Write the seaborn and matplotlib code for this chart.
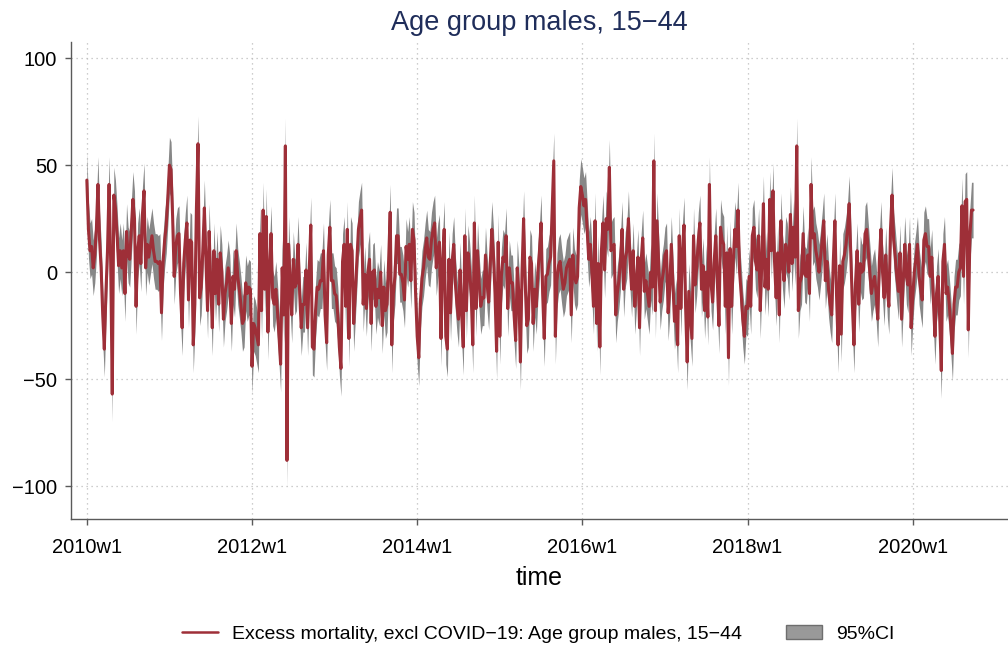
import numpy as np
import pandas as pd
import seaborn as sns
import matplotlib.pyplot as plt
from matplotlib.patches import Patch
from matplotlib.lines import Line2D

# weekly excess mortality (Stata weeks, 52 per year)
exc_2010 = [43, 20, 10, 12, 2, 8, 20, 41, 15, 2, -20, -36, -10, 10, 41, 5, -57, 36, 30, 18,
            3, 10, 2, 10, -10, 19, 8, 6, 20, 34, 25, -16, 10, 17, 4, 27, 38, 2, 13, 7,
            12, 17, 10, 5, 5, 4, 5, -19, 5, 15, 22, 35]
exc_2011 = [50, 48, 26, -2, 12, 17, 18, -10, -26, 4, 15, 23, -13, 15, 14, -34, -15, 30, 60, -12,
            -7, 10, 30, 5, -18, 19, -5, -26, 10, -10, 6, -15, 9, 0, -22, -10, -5, 2, -5, -24,
            -2, -8, 10, -2, -8, -15, -24, -22, -5, -10, -7, -8]
exc_2012 = [-44, -24, -26, -30, -34, 18, -18, 29, -8, 26, -28, 0, 18, -12, -15, -8, -18, -30, -43, 2,
            -20, 59, -88, 13, -5, -20, 6, -7, -5, 13, -10, -26, -15, -15, 1, -26, 0, 22, -35, -36,
            -18, -7, -8, -4, -4, 10, -20, -33, 8, 21, -4, -4]
exc_2013 = [-10, -11, -20, -35, -45, 5, 13, -16, 20, -31, 13, 10, -24, -10, 5, 20, 25, 29, -15, -1,
            -17, 0, 6, -24, 0, 1, -16, -8, -12, 0, -25, -7, -18, -15, 5, 28, -34, -10, -2, 17,
            17, -1, -1, -5, -13, 12, 6, 13, -4, 20, 15, -10]
exc_2014 = [-30, -40, -14, -3, 2, 10, 16, 7, 6, 15, 20, 23, 2, 10, 14, -31, 5, 20, -30, -36,
            6, -19, 5, 13, -5, -15, -22, 1, -20, -35, 17, -18, 9, 1, -10, -34, 23, -17, 10, -5,
            -16, -12, -12, 8, -5, -14, 4, 20, 8, -10, -37, 14]
exc_2015 = [-30, -2, 7, 5, 17, -17, 2, -5, -5, -20, -32, 2, -10, -42, 0, 25, -5, -25, -22, 7,
            4, -24, -8, -16, 0, 10, 23, -10, -31, -2, -1, 4, 7, 30, 52, -30, -4, 3, 5, -2,
            -8, -5, 2, 4, 6, -20, 8, -2, -5, -2, 30, 40]
exc_2016 = [36, 31, 34, 20, 6, 13, 0, -16, 24, -24, 4, -35, 10, 23, 1, 25, 20, 49, 10, 12,
            13, -20, -10, -4, 5, 20, -8, 6, 10, 25, 5, -8, 10, -16, -5, 7, -26, 5, 16, -9,
            -4, -10, -16, 0, -7, 52, -18, 24, 5, -14, -5, 0]
exc_2017 = [8, 10, -19, -8, 13, -5, -23, -16, -34, 17, -17, 10, 22, -16, -42, -9, -20, -31, 17, -6,
            2, 15, 23, -8, 3, -18, 0, -21, 41, -5, -14, 5, 17, -5, -25, 21, 15, 13, -16, 9,
            -40, 11, -16, 5, 20, 12, 29, 0, -10, -22, -30, -16]
exc_2018 = [-17, -2, -16, 17, 21, 5, 1, 17, -18, 5, 32, -7, 6, -8, 34, 10, 38, 5, -12, 9,
            -20, 24, 5, -4, 13, 10, 0, 27, 4, 21, 7, 59, -18, -5, -2, 18, -1, -2, 8, -10,
            41, 16, 18, 10, 6, 0, 7, 15, 24, -4, 5, -8]
exc_2019 = [-15, -20, 5, 24, -10, -34, 3, -29, 5, 8, 13, 20, 32, 9, -15, -34, -5, 10, -15, 4,
            0, 1, 18, 20, 10, 0, -10, -5, -2, -10, -22, 5, 20, 0, -12, 8, -8, -16, 20, 36,
            15, 7, -2, -9, 9, -22, -5, 13, -2, -6, 13, -26]
exc_2020 = [-12, 0, 6, 13, -2, -8, -13, 15, 18, 12, 12, -2, 7, -13, -30, -10, -2, -22, -46, 5,
            13, -10, -7, -15, -25, -38, -15, -7, -7, 0, 2, 31, -2, 33, 34, -27, 17, 29, 29]

ci_half = 13  # half-width of the 95% band

tick_weeks = [0, 104, 208, 312, 416, 520]
tick_labels = ["2010w1", "2012w1", "2014w1", "2016w1", "2018w1", "2020w1"]
y_ticks = [-100, -50, 0, 50, 100]

excess = (exc_2010 + exc_2011 + exc_2012 + exc_2013 + exc_2014 + exc_2015
          + exc_2016 + exc_2017 + exc_2018 + exc_2019 + exc_2020)
df = pd.DataFrame({"week": np.arange(len(excess)), "excess": excess})
df["lo"] = df["excess"] - ci_half
df["hi"] = df["excess"] + ci_half

red = "#9e2f38"
band = "#878787"
axis_col = "#5a5a5a"

sns.set_style("white")
plt.rcParams["font.family"] = ["Liberation Sans", "DejaVu Sans"]
plt.rcParams["text.color"] = "black"
plt.rcParams["axes.labelcolor"] = "black"

fig = plt.figure(figsize=(10.08, 6.48), dpi=100)
ax = fig.add_axes([0.0704, 0.199, 0.9296, 0.736])

ax.fill_between(df["week"], df["lo"], df["hi"], color=band, lw=0)
sns.lineplot(data=df, x="week", y="excess", color=red, lw=2.2, ax=ax, legend=False)

ax.set_xlim(-10, 580)
ax.set_ylim(-115.4, 107.5)
ax.set_xticks(tick_weeks)
ax.set_xticklabels(tick_labels)
ax.set_yticks(y_ticks)
ax.grid(True, linestyle=(0, (1, 3)), color="#bdbdbd", lw=0.9)
ax.set_axisbelow(True)

for s in ["top", "right"]:
    ax.spines[s].set_visible(False)
for s in ["left", "bottom"]:
    ax.spines[s].set_color(axis_col)
    ax.spines[s].set_linewidth(1.0)
ax.tick_params(bottom=True, left=True, direction="out", length=4, width=1,
               color=axis_col, labelcolor="black", labelsize=14.5)
ax.tick_params(axis="x", pad=10)
ax.tick_params(axis="y", pad=6)

ax.set_ylabel("")
ax.set_xlabel("time", fontsize=18, labelpad=6)
ax.set_title("Age group males, 15\u221244", fontsize=19.5, color="#1f2d5a", pad=9)

handles = [Line2D([0], [0], color=red, lw=1.8),
           Patch(facecolor="#999999", edgecolor="#6e6e6e", lw=1)]
labels = ["Excess mortality, excl COVID\u221219: Age group males, 15\u221244", "95%CI"]
fig.legend(handles, labels, loc="center", bbox_to_anchor=(0.534, 1 - 634 / 648), ncol=2,
           frameon=False, fontsize=14, columnspacing=2.3, handlelength=1.85, handletextpad=0.72)

fig.savefig("out.png", dpi=100)
